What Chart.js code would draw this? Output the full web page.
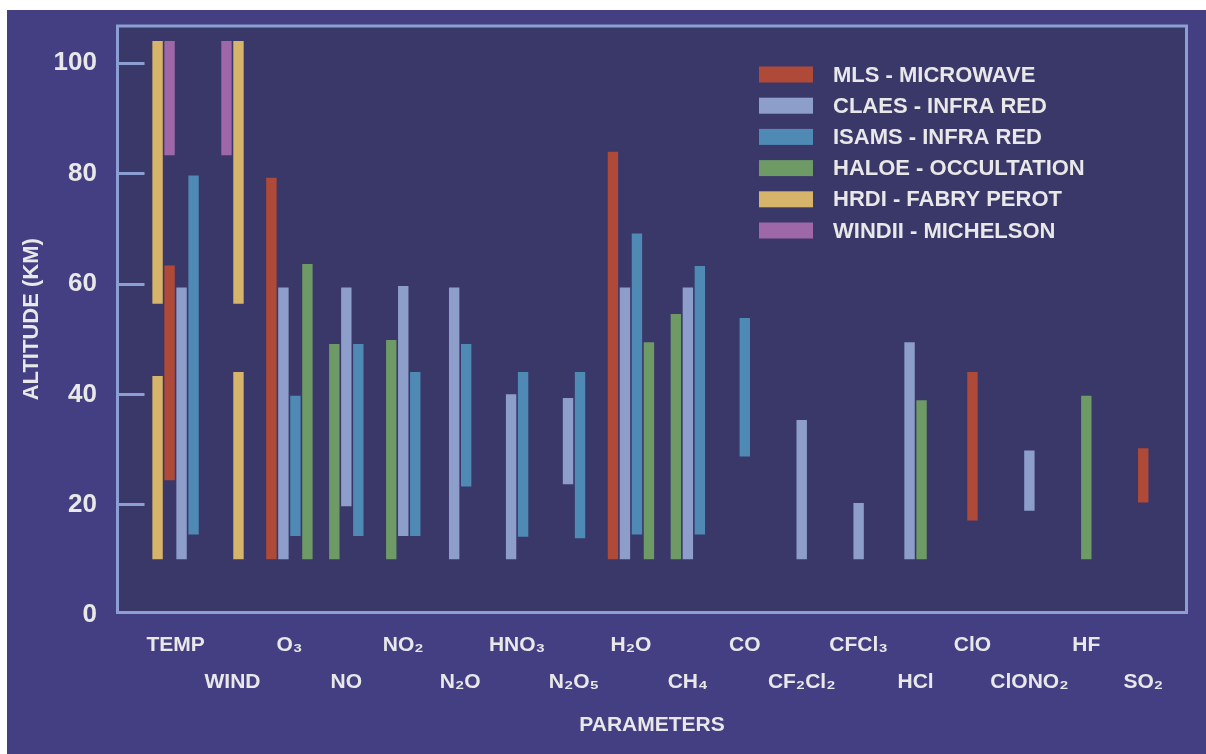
<!DOCTYPE html>
<html>
<head>
<meta charset="utf-8">
<script src="https://cdn.jsdelivr.net/npm/chart.js@4.4.1/dist/chart.umd.min.js"></script>
<style>
  html, body { margin: 0; padding: 0; background: #ffffff; overflow: hidden; }
  #wrap { position: absolute; left: 7px; top: 10px; width: 1199px; height: 744px; background: #433f82; }
</style>
</head>
<body>
<div id="wrap"><canvas id="uarsChart"></canvas></div>
<script>
  const categories = ["TEMP", "WIND", "O₃", "NO", "NO₂", "N₂O", "HNO₃", "N₂O₅", "H₂O", "CH₄", "CO", "CF₂Cl₂", "CFCl₃", "HCl", "ClO", "ClONO₂", "HF", "SO₂"];
  const altitudeTicks = [0, 20, 40, 60, 80, 100];

  // altitude range [bottom, top] in km per parameter, null = not measured
  const mlsRanges = [[24.3, 63.5], null, [10, 79.4], null, null, null, null, null, [10, 84.1], null, null, null, null, null, [17, 44.2], null, null, [20.3, 30.4]];
  const claesRanges = [[10, 59.5], null, [10, 59.5], [19.6, 59.5], [14.2, 59.8], [10, 59.5], [10, 40.2], [23.6, 39.5], [10, 59.5], [10, 59.5], null, [10, 35.5], [10, 20.5], [10, 49.6], null, [18.8, 30], null, null];
  const isamsRanges = [[14.5, 79.8], null, [14.2, 39.9], [14.2, 49.3], [14.2, 44.2], [23.2, 49.3], [14.1, 44.2], [13.8, 44.2], [14.5, 69.3], [14.5, 63.4], [28.6, 54], null, null, null, null, null, null, null];
  const haloeRanges = [null, null, [10, 63.8], [10, 49.3], [10, 50], null, null, null, [10, 49.6], [10, 54.7], null, null, null, [10, 39.1], null, null, [10, 39.9], null];
  const hrdiLowRanges = [[10, 43.5], [10, 44.2], null, null, null, null, null, null, null, null, null, null, null, null, null, null, null, null];
  const hrdiHighRanges = [[56.3, 104.2], [56.3, 104.2], null, null, null, null, null, null, null, null, null, null, null, null, null, null, null, null];
  const windiiRanges = [[83.2, 104.2], [83.2, 104.2], null, null, null, null, null, null, null, null, null, null, null, null, null, null, null, null];

  const instrumentNames = ["MLS - MICROWAVE", "CLAES - INFRA RED", "ISAMS - INFRA RED", "HALOE - OCCULTATION", "HRDI - FABRY PEROT", "WINDII - MICHELSON"];
  const instrumentColors = ["#b04a38", "#8e9ecb", "#4e8ab4", "#6e9a66", "#d6b56a", "#9e68a8"];
  const [mlsColor, claesColor, isamsColor, haloeColor, hrdiColor, windiiColor] = instrumentColors;

  const textColor = "#e8e8e8";
  const plotColor = "#3a3769";
  const frameColor = "#8c9fd4";
  const fontFamily = "'Liberation Sans', Arial, sans-serif";

  // where an instrument stands left of CLAES inside its group
  const haloeLeadsAt = ["NO", "NO₂", "CH₄"];
  const hrdiLeadsAt = ["TEMP"];

  function only(ranges, names, keep) {
    return ranges.map((range, i) => (names.includes(categories[i]) === keep ? range : null));
  }

  function barSet(label, data, color, stack) {
    return { label, data, stack, backgroundColor: color, borderWidth: 0 };
  }

  const datasets = [
    barSet("HALOE", only(haloeRanges, haloeLeadsAt, true), haloeColor, "haloe-first"),
    barSet("HRDI", only(hrdiLowRanges, hrdiLeadsAt, true), hrdiColor, "hrdi-first"),
    barSet("HRDI", only(hrdiHighRanges, hrdiLeadsAt, true), hrdiColor, "hrdi-first"),
    barSet("MLS", mlsRanges, mlsColor, "mls"),
    barSet("WINDII", windiiRanges, windiiColor, "mls"),
    barSet("CLAES", claesRanges, claesColor, "claes"),
    barSet("ISAMS", isamsRanges, isamsColor, "isams"),
    barSet("HALOE", only(haloeRanges, haloeLeadsAt, false), haloeColor, "haloe-last"),
    barSet("HRDI", only(hrdiLowRanges, hrdiLeadsAt, false), hrdiColor, "hrdi-last"),
    barSet("HRDI", only(hrdiHighRanges, hrdiLeadsAt, false), hrdiColor, "hrdi-last"),
  ];

  const framePlugin = {
    id: "frame",
    beforeDraw(chart) {
      const { ctx, chartArea: area } = chart;
      ctx.save();
      ctx.fillStyle = plotColor;
      ctx.fillRect(area.left, area.top, area.right - area.left, area.bottom - area.top);
      ctx.strokeStyle = frameColor;
      ctx.lineWidth = 3;
      ctx.strokeRect(area.left, area.top, area.right - area.left, area.bottom - area.top);
      ctx.restore();
    },
  };

  const boxLegendPlugin = {
    id: "boxLegend",
    afterDatasetsDraw(chart) {
      const { ctx } = chart;
      ctx.save();
      ctx.font = `bold 22px ${fontFamily}`;
      ctx.textBaseline = "middle";
      instrumentNames.forEach((name, i) => {
        const y = 64.5 + i * 31.2;
        ctx.fillStyle = instrumentColors[i];
        ctx.fillRect(752, y - 8, 54, 16);
        ctx.fillStyle = textColor;
        ctx.fillText(name, 826, y + 1);
      });
      ctx.restore();
    },
  };

  new Chart(document.getElementById("uarsChart"), {
    type: "bar",
    data: {
      labels: categories.map((_, i) => i),
      datasets,
    },
    plugins: [framePlugin, boxLegendPlugin],
    options: {
      responsive: true,
      maintainAspectRatio: false,
      animation: false,
      events: [],
      layout: {
        padding: { top: 16, right: 19.5, bottom: 0, left: 0 },
      },
      datasets: {
        bar: {
          barThickness: 12,
          inflateAmount: -0.8,
          skipNull: true,
        },
      },
      plugins: {
        legend: { display: false },
        tooltip: { enabled: false },
      },
      scales: {
        x: {
          type: "linear",
          min: -1.02,
          max: 17.76,
          bounds: "data",
          offset: false,
          afterBuildTicks: (axis) => {
            axis.ticks = categories.map((_, i) => ({ value: i }));
          },
          afterFit: (axis) => {
            axis.height = 141.5;
            axis.paddingLeft = 0;
            axis.paddingRight = 0;
          },
          grid: { display: false, drawTicks: false },
          border: { display: false },
          ticks: {
            autoSkip: false,
            maxRotation: 0,
            minRotation: 0,
            padding: 14.5,
            color: textColor,
            font: { family: fontFamily, size: 21, weight: "bold", lineHeight: 1.74 },
            callback: (value) => {
              const i = Math.round(value);
              return i % 2 === 0 ? categories[i] : ["", categories[i]];
            },
          },
          title: {
            display: true,
            text: "PARAMETERS",
            color: textColor,
            font: { family: fontFamily, size: 21, weight: "bold" },
            padding: { top: 0, bottom: 16.4 },
          },
        },
        y: {
          min: 0.5,
          max: 106.75,
          bounds: "data",
          stacked: false,
          afterBuildTicks: (axis) => {
            axis.ticks = altitudeTicks.map((value) => ({ value }));
          },
          afterFit: (axis) => {
            axis.width = 110.5;
            axis.paddingTop = 0;
            axis.paddingBottom = 0;
          },
          grid: {
            drawOnChartArea: false,
            drawTicks: true,
            tickLength: -27,
            lineWidth: 3,
            color: (context) => (context.tick && context.tick.value === 0 ? "rgba(0,0,0,0)" : frameColor),
          },
          border: { display: false },
          ticks: {
            padding: 47.5,
            color: textColor,
            font: { family: fontFamily, size: 26, weight: "bold" },
          },
          title: {
            display: true,
            text: "ALTITUDE (KM)",
            color: textColor,
            font: { family: fontFamily, size: 22, weight: "bold" },
            padding: { top: 11.5, bottom: 0 },
          },
        },
      },
    },
  });
</script>
</body>
</html>
